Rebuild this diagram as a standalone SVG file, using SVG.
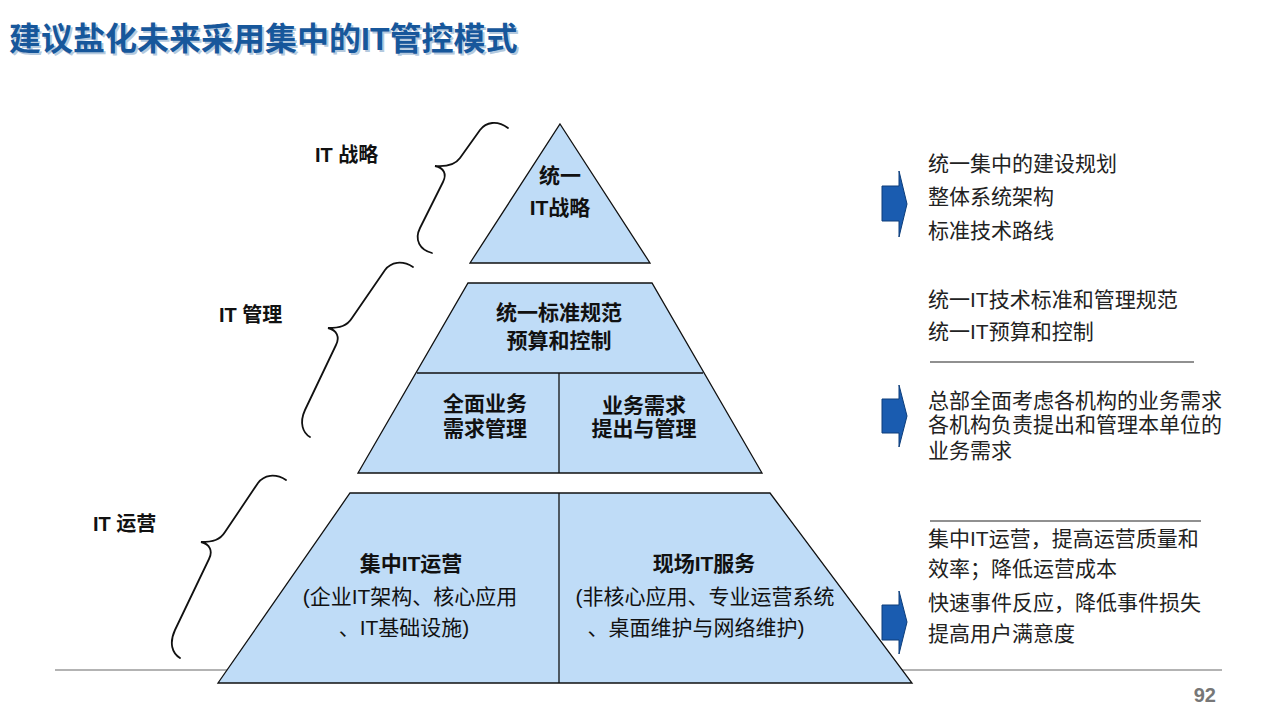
<svg xmlns="http://www.w3.org/2000/svg" width="1280" height="720" viewBox="0 0 1280 720">
<style>
  text { font-family: "Liberation Sans", "Noto Sans CJK SC", sans-serif; }
  .title { font-size: 32px; font-weight: bold; fill: #17579b; }
  .shadow { font-size: 32px; font-weight: bold; fill: #b4c9de; }
  .lvl { font-size: 20px; font-weight: bold; fill: #111; }
  .blk { fill: #bfdcf7; stroke: #111; stroke-width: 1.3; }
  .div { stroke: #111; stroke-width: 1.3; fill: none; }
  .pb { font-size: 21px; font-weight: bold; fill: #111; text-anchor: middle; }
  .pn { font-size: 21px; fill: #111; text-anchor: middle; }
  .rt { font-size: 21px; fill: #222; }
  .brace { fill: none; stroke: #111; stroke-width: 1.8; stroke-linecap: round; }
  .arr { fill: #1a5cb0; stroke: #0c3d7a; stroke-width: 1; }
  .sep { stroke: #222; stroke-width: 1.2; }
</style>

<line x1="55" y1="670" x2="1222" y2="670" stroke="#9a9a9a" stroke-width="1.3"/>

<text class="shadow" x="11" y="52">建议盐化未来采用集中的IT管控模式</text>
<text class="title" x="9" y="50">建议盐化未来采用集中的IT管控模式</text>

<g id="labels">
  <text class="lvl" x="315" y="162">IT 战略</text>
  <text class="lvl" x="219" y="322">IT 管理</text>
  <text class="lvl" x="93" y="531">IT 运营</text>
</g>

<g id="braces">
  <path class="brace" d="M508,128 C497,120 486,122 480,130 L460,158 C455,165 447,167 435,166 C444,168 447,174 443,182 L420,228 C414,240 420,250 432,253"/>
  <path class="brace" d="M413,267 C402,260 391,262 385,270 L352,318 C347,326 340,328 328,328 C337,330 340,337 336,345 L305,410 C299,423 303,433 310,437"/>
  <path class="brace" d="M286,480 C275,473 264,475 258,483 L225,532 C220,540 213,542 201,542 C210,544 213,551 209,559 L175,630 C169,643 172,653 180,658"/>
</g>

<g id="strategy">
  <polygon class="blk" points="560,124 650,263 470,263"/>
  <text class="pb" x="560" y="183">统一</text>
  <text class="pb" x="560" y="215">IT战略</text>
</g>

<g id="management">
  <polygon class="blk" points="468,283 652,283 762,473 358,473"/>
  <line class="div" x1="417" y1="373" x2="703" y2="373"/>
  <line class="div" x1="559" y1="373" x2="559" y2="473"/>
  <text class="pb" x="559" y="320">统一标准规范</text>
  <text class="pb" x="559" y="348">预算和控制</text>
  <text class="pb" x="485" y="411">全面业务</text>
  <text class="pb" x="485" y="436">需求管理</text>
  <text class="pb" x="644" y="413">业务需求</text>
  <text class="pb" x="644" y="436">提出与管理</text>
</g>

<g id="operations">
  <polygon class="blk" points="350,493 770,493 912,683 218,683"/>
  <line class="div" x1="559" y1="493" x2="559" y2="683"/>
  <text class="pb" x="411" y="571">集中IT运营</text>
  <text class="pn" x="410" y="604">(企业IT架构、核心应用</text>
  <text class="pn" x="404" y="635">、IT基础设施)</text>
  <text class="pb" x="704" y="571">现场IT服务</text>
  <text class="pn" x="705" y="604">(非核心应用、专业运营系统</text>
  <text class="pn" x="696" y="635">、桌面维护与网络维护)</text>
</g>

<g id="connectors">
  <polygon class="arr" points="882,186 899,186 899,171 907,204 899,237 899,221 882,221"/>
  <polygon class="arr" points="882,399 899,399 899,385 907,416 899,447 899,433 882,433"/>
  <polygon class="arr" points="882,605 899,605 899,591 907,622 899,654 899,640 882,640"/>
</g>

<g id="notes">
  <text class="rt" x="928" y="171">统一集中的建设规划</text>
  <text class="rt" x="928" y="204">整体系统架构</text>
  <text class="rt" x="928" y="238">标准技术路线</text>
  <text class="rt" x="928" y="307">统一IT技术标准和管理规范</text>
  <text class="rt" x="928" y="339">统一IT预算和控制</text>
  <line class="sep" x1="930" y1="362" x2="1194" y2="362"/>
  <text class="rt" x="928" y="408">总部全面考虑各机构的业务需求</text>
  <text class="rt" x="928" y="432">各机构负责提出和管理本单位的</text>
  <text class="rt" x="928" y="458">业务需求</text>
  <line class="sep" x1="930" y1="521" x2="1201" y2="521"/>
  <text class="rt" x="928" y="546">集中IT运营，提高运营质量和</text>
  <text class="rt" x="928" y="576">效率；降低运营成本</text>
  <text class="rt" x="928" y="610">快速事件反应，降低事件损失</text>
  <text class="rt" x="928" y="641">提高用户满意度</text>
</g>

<text x="1216" y="702" font-size="20" font-weight="bold" fill="#777" text-anchor="end">92</text>
</svg>
